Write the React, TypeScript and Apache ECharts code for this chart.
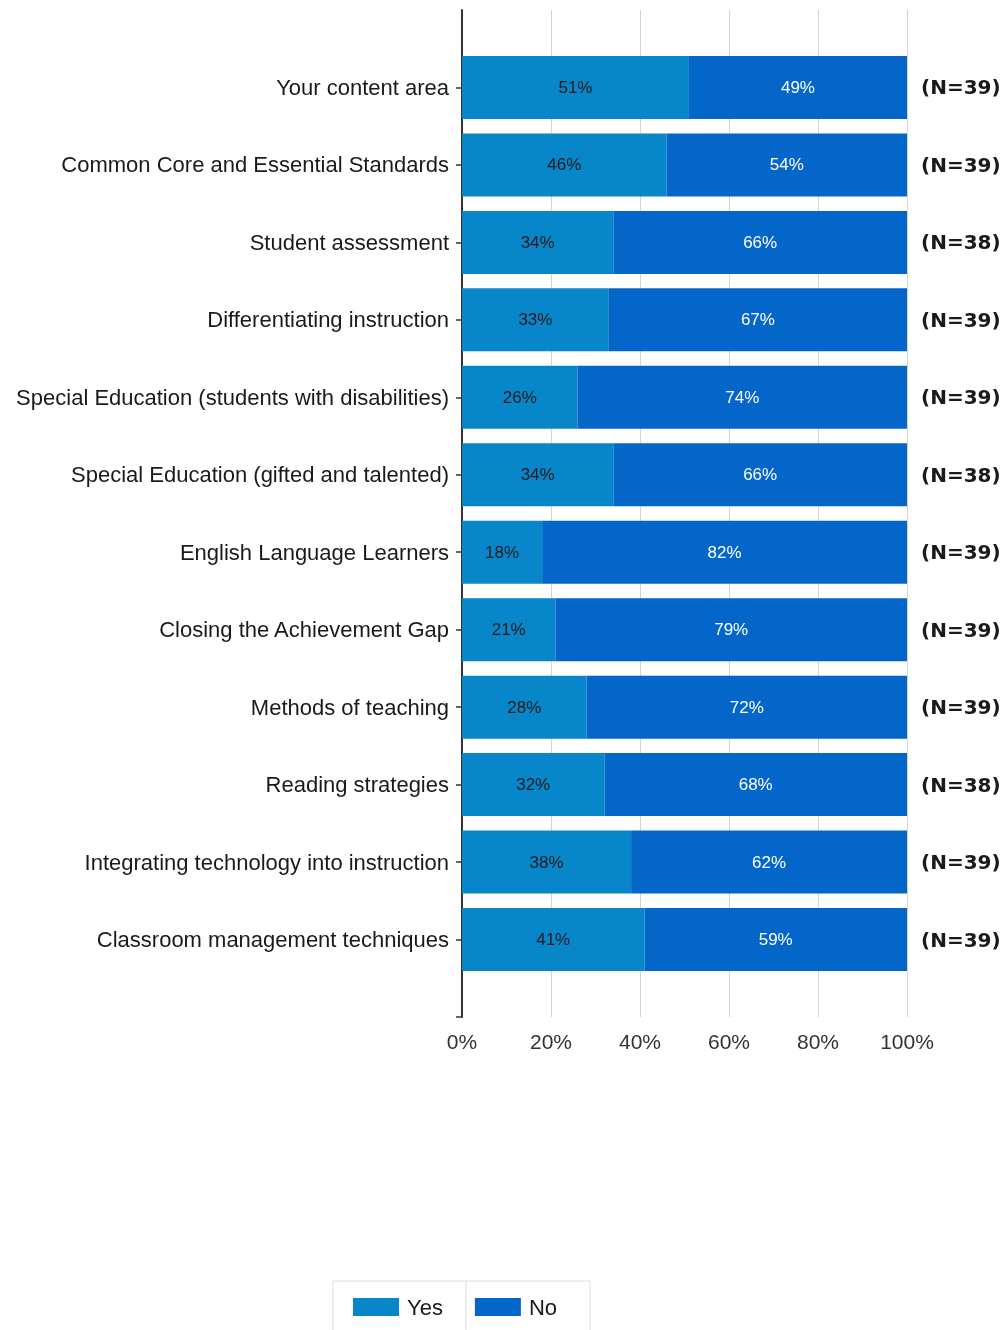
import React, { useEffect, useRef } from "react";
import * as echarts from "echarts";

const categories = [
  "Your content area",
  "Common Core and Essential Standards",
  "Student assessment",
  "Differentiating instruction",
  "Special Education (students with disabilities)",
  "Special Education (gifted and talented)",
  "English Language Learners",
  "Closing the Achievement Gap",
  "Methods of teaching",
  "Reading strategies",
  "Integrating technology into instruction",
  "Classroom management techniques",
];
const yesValues = [51, 46, 34, 33, 26, 34, 18, 21, 28, 32, 38, 41];
const noValues = [49, 54, 66, 67, 74, 66, 82, 79, 72, 68, 62, 59];
const nValues = [39, 39, 38, 39, 39, 38, 39, 39, 39, 38, 39, 39];
const xTicks = [0, 20, 40, 60, 80, 100];

const FONT = "Liberation Sans";

export default function App() {
  const ref = useRef<HTMLDivElement>(null);
  useEffect(() => {
    if (!ref.current) return;
    const chart = echarts.init(ref.current, null, { renderer: "svg" });
    const cats = ["", ...categories, ""];
    const nCats = ["", ...nValues.map((n) => `(N=${n})`), ""];
    const pad = (arr: number[]) => [null, ...arr, null];
    chart.setOption({
      animation: false,
      textStyle: { fontFamily: FONT },
      grid: { left: 462, right: 101, top: 10, bottom: 313, containLabel: false },
      xAxis: {
        type: "value",
        min: xTicks[0],
        max: xTicks[xTicks.length - 1],
        interval: 20,
        axisLine: { show: false },
        axisTick: { show: false },
        splitLine: { show: true, lineStyle: { color: "#d4d4d4", width: 1 } },
        axisLabel: { formatter: "{value}%", color: "#333", fontSize: 21, margin: 14, fontFamily: FONT },
      },
      yAxis: [
        {
          type: "category",
          data: cats,
          inverse: true,
          boundaryGap: false,
          axisLine: { show: true, lineStyle: { color: "#333", width: 2 } },
          axisTick: {
            show: true,
            length: 6,
            interval: (i: number) => i !== 0,
            lineStyle: { color: "#333", width: 1.5 },
          },
          axisLabel: { color: "#1a1a1a", fontSize: 22, margin: 13, fontFamily: FONT, interval: 0 },
          splitLine: { show: false },
        },
        {
          type: "category",
          data: nCats,
          inverse: true,
          boundaryGap: false,
          position: "right",
          axisLine: { show: false },
          axisTick: { show: false },
          axisLabel: { color: "#1a1a1a", fontSize: 20, fontWeight: "bold", margin: 14, fontFamily: "DejaVu Sans", interval: 0 },
        },
      ],
      legend: {
        data: ["Yes", "No"],
        left: 353,
        top: 1296,
        itemWidth: 46,
        itemHeight: 18,
        itemGap: 32,
        icon: "rect",
        padding: 0,
        textStyle: { fontSize: 22, color: "#1a1a1a", fontFamily: FONT, padding: [0, 0, 0, 3] },
      },
      graphic: [
        { type: "rect", shape: { x: 333, y: 1281, width: 257, height: 70 }, style: { fill: "none", stroke: "#dcdcdc", lineWidth: 1 } },
        { type: "line", shape: { x1: 466, y1: 1281, x2: 466, y2: 1340 }, style: { stroke: "#dcdcdc", lineWidth: 1 } },
      ],
      series: [
        {
          name: "Yes",
          type: "bar",
          stack: "total",
          barWidth: 63,
          data: pad(yesValues),
          itemStyle: { color: "#0787c9" },
          label: { show: true, position: "inside", formatter: "{c}%", color: "#1a1a1a", fontSize: 17, fontFamily: FONT },
        },
        {
          name: "No",
          type: "bar",
          stack: "total",
          barWidth: 63,
          data: pad(noValues),
          itemStyle: { color: "#0566ca" },
          label: { show: true, position: "inside", formatter: "{c}%", color: "#ffffff", fontSize: 17, fontFamily: FONT },
        },
      ],
    });
    return () => chart.dispose();
  }, []);
  return <div ref={ref} style={{ position: "fixed", left: 0, top: 0, width: 1008, height: 1330 }} />;
}
